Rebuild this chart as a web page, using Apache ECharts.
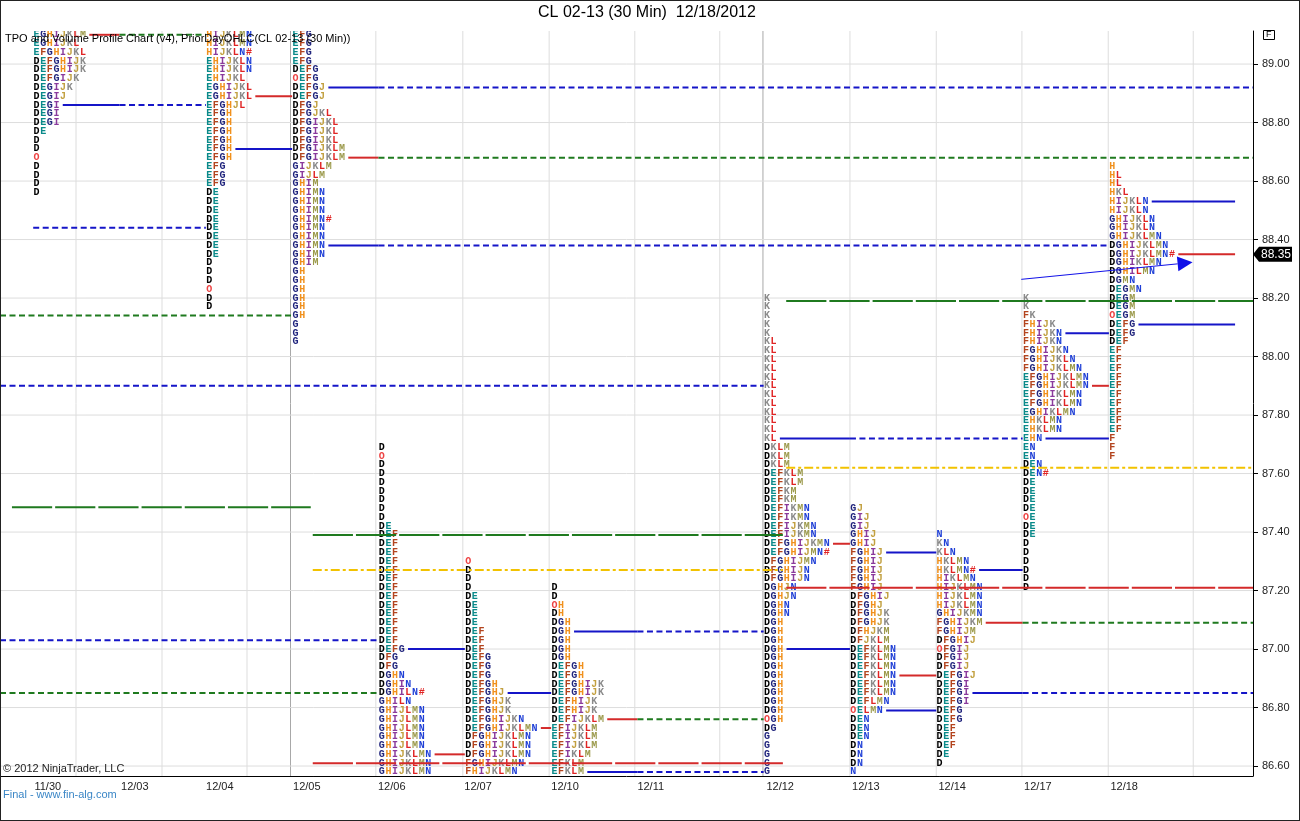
<!DOCTYPE html>
<html><head><meta charset="utf-8">
<script src="https://cdn.jsdelivr.net/npm/echarts@6/dist/echarts.min.js"></script>
<style>
html,body{margin:0;padding:0;background:#fff}
#wrap{position:relative;width:1300px;height:821px}
#c{width:1300px;height:821px}
#frame{position:absolute;left:0;top:0;width:1300px;height:821px;box-sizing:border-box;border:1px solid #222;pointer-events:none}
</style>
</head><body>
<div id="wrap"><div id="c"></div><div id="frame"></div></div>
<script>
// ---------- texts ----------
const chartTitle = 'CL 02-13 (30 Min)  12/18/2012';
const chartSubtitle = 'TPO and Volume Profile Chart (v4), PriorDayOHLC(CL 02-13 (30 Min))';
const copyrightText = '\u00a9 2012 NinjaTrader, LLC';
const footerText = 'Final - www.fin-alg.com';

// ---------- axes ----------
const yTickLabels = ['86.60','86.80','87.00','87.20','87.40','87.60','87.80','88.00','88.20','88.40','88.60','88.80','89.00'];
const xTickLabels = ['11/30','12/03','12/04','12/05','12/06','12/07','12/10','12/11','12/12','12/13','12/14','12/17','12/18'];
// positions on the time axis, in 30-minute TPO periods
const xTickPos = [7.2,20.3,33.1,46.2,59.0,72.0,85.1,98.0,117.5,130.4,143.4,156.3,169.3];
const dayGridPos = [11.45,24.4,37.2,56.6,69.7,82.7,95.6,108.4,128.0,141.0,153.9,166.9,179.7];
const weekGridPos = [43.75,114.9];
const xMin = 0, xMax = 188.7;
const yMin = 86.566, yMax = 89.113;

// ---------- TPO profiles ----------
const rowStep = 0.03;
const sessionDates = ['11/30','12/04','12/05','12/06','12/07','12/10','12/12','12/13','12/14','12/17','12/18'];
const sessionStart = [5,31,44,57,70,83,115,128,141,154,167];
const sessionEnd   = [18,44,57,70,83,96,128,141,154,167,186];
const sessionTop   = [89.10,89.10,89.10,87.69,87.30,87.21,88.20,87.48,87.39,88.20,88.65];

const tpo1130 = ['EGHIJKLM','EGHIJKL','EFGHIJKL','DEFGHIJK','DEFGHIJK','DEFGIJK','DEGIJK','DEGIJ','DEGI','DEGI','DEGI','DE','D','D','O','D','D','D','D'];
const tpo1204 = ['HIJKLMN','HIJKLMN','HIJKLN#','EHIJKLN','EHIJKLN','EHIJKL','EGHIJKL','EGHIJKL','EFGHJL','EFGH','EFGH','EFGH','EFGH','EFGH','EFGH','EFG','EFG','EFG','DE','DE','DE','DE','DE','DE','DE','DE','D','D','D','O','D','D'];
const tpo1205 = ['EFG','EFG','EFG','EFG','DEFG','OEFG','DEFGJ','DEFGJ','DFGJ','DFGJKL','DFGIJKL','DFGIJKL','DFGIJKL','DFGIJKLM','DFGIJKLM','GIJKLM','GIJLM','GHIM','GHIMN','GHIMN','GHIMN','GHIMN#','GHIMN','GHIMN','GHIMN','GHIMN','GHIM','GH','GH','GH','GH','GH','GH','G','G','G'];
const tpo1206 = ['D','O','D','D','D','D','D','D','D','DE','DEF','DEF','DEF','DEF','DEF','DEF','DEF','DEF','DEF','DEF','DEF','DEF','DEF','DEFG','DFG','DFG','DGHN','DGHIN','DGHILN#','GHILN','GHIJLMN','GHIJLMN','GHIJLMN','GHIJLMN','GHIJLMN','GHIJKLMN','GHIJKLMN','GHIJKLMN'];
const tpo1207 = ['O','D','D','D','DE','DE','DE','DE','DEF','DEF','DEF','DEFG','DEFG','DEFG','DEFGH','DEFGHJ','DEFGHJK','DEFGHJK','DEFGHIJKN','DEFGHIJKLMN','DFGHIJKLMN','DFGHIJKLMN','DFGHIJKLMN','FGHIJKLMN','FHIJKLMN'];
const tpo1210 = ['D','D','OH','DH','DGH','DGH','DGH','DGH','DGH','DEFGH','DEFGH','DEFGHIJK','DEFGHIJK','DEFHIJK','DEFHIJK','DEFIJKLM','EFIJKLM','EFIJKLM','EFIJKLM','EFIKLM','EFKLM','EFKLM'];
const tpo1212 = ['K','K','K','K','K','KL','KL','KL','KL','KL','KL','KL','KL','KL','KL','KL','KL','DKLM','DKLM','DKLM','DEFKLM','DEFKLM','DEFKM','DEFKM','DEFIKMN','DEFIKMN','DEFIJKMN','DEFIJKMN','DEFGHIJKMN','DEFGHIJMN#','DFGHIJMN','DFGHIJN','DFGHIJN','DGHJN','DGHJN','DGHN','DGHN','DGH','DGH','DGH','DGH','DGH','DGH','DGH','DGH','DGH','DGH','DGH','OGH','DG','G','G','G','G','G'];
const tpo1213 = ['GJ','GIJ','GIJ','GHIJ','GHIJ','FGHIJ','FGHIJ','FGHIJ','FGHIJ','FGHIJ','DFGHIJ','DFGHJ','DFGHJK','DFGHJK','DFHJKM','DFJKLM','DEFKLMN','DEFKLMN','DEFKLMN','DEFKLMN','DEFKLMN','DEFKLMN','DEFLMN','OELMN','DEN','DEN','DEN','DN','DN','DN','N'];
const tpo1214 = ['N','KN','KLN','HKLMN','HKLMN#','HIKLMN','HIJKLMN','HIJKLMN','HIJKLMN','GHIJKMN','FGHIJKM','FGHIJM','DFGHIJ','OFGIJ','DFGIJ','DFGIJ','DEFGIJ','DEFGI','DEFGI','DEFGI','DEFG','DEFG','DEF','DEF','DEF','DE','D'];
const tpo1217 = ['K','K','FK','FHIJK','FHIJKN','FHIJKN','FGHIJKN','FGHIJKLN','FGHIJKLMN','EFGHIJKLMN','EFGHIJKLMN','EFGHIKLMN','EFGHIKLMN','EGHIKLMN','EHKLMN','EHKLMN','EHN','EN','EN','DEN','DEN#','DE','DE','DE','DE','OE','DE','DE','D','D','D','D','D','D'];
const tpo1218 = ['H','HL','HL','HKL','HIJKLN','HIJKLN','GHIJKLN','GHIJKLN','GHIJKLMN','DGHIJKLMN','DGHIJKLMN#','DGHIKLMN','DGHILMN','DGMN','DEGMN','DEGM','DEGM','OEGM','DEFG','DEFG','DEF','EF','EF','EF','EF','EF','EF','EF','EF','EF','EF','F','F','F'];
const sessionRows = [tpo1130,tpo1204,tpo1205,tpo1206,tpo1207,tpo1210,tpo1212,tpo1213,tpo1214,tpo1217,tpo1218];

// value area high / point of control / value area low (null = above or below the chart)
const sessionVAH = [null,null,88.92,87.00,86.85,87.06,87.72,87.33,87.27,88.08,88.53];
const sessionPOC = [89.10,88.89,88.68,86.64,86.73,86.76,87.36,86.91,87.09,87.90,88.35];
const sessionVAL = [88.86,88.71,88.38,null,null,86.58,87.00,86.79,86.85,87.72,88.11];

// naked levels from sessions left of the chart
const priorLevelPrice = [88.44,88.14,87.90,87.03,86.85];
const priorLevelKind  = ['va','poc','va','va','poc'];
const priorLevelFrom  = [5,0,0,0,0];

// PriorDayOHLC segments
const pdFrom  = [1.8,47.1,118.4];
const pdTo    = [46.8,117.9,188.7];
const pdHigh  = [87.485,87.39,88.19];
const pdClose = [null,87.27,87.62];
const pdLow   = [null,86.61,87.21];

// drawn arrow and last price
const trendX = [153.8,179.6];
const trendY = [88.264,88.322];
const lastPrice = 88.35;

// ---------- styles ----------
const letterColor = {D:'#000000',E:'#0a8a8a',F:'#b3441e',G:'#22267e',H:'#f0901c',I:'#8a3a9c',J:'#c2a040',K:'#8a8a8a',L:'#e02424',M:'#9c9a4c',N:'#1f3fd6',O:'#ee4444','#':'#e02424'};
const BLUE = '#1515c8', RED = '#d42a2a', GREEN = '#1f7a1f', YELLOW = '#f2c200';

// ---------- build ----------
const r2 = v => Math.round(v*100)/100;
const sessionBottom = sessionTop.map((t,i)=>r2(t-(sessionRows[i].length-1)*rowStep));

const letterData = [], letterChars = [];
sessionRows.forEach((rows,s)=>{
  rows.forEach((row,k)=>{
    const price = r2(sessionTop[s]-k*rowStep);
    for (let i=0;i<row.length;i++){
      letterData.push([sessionStart[s]+i+0.5, price]);
      letterChars.push(row[i]);
    }
  });
});

function touchAfter(price, fromSession){
  for (let j=fromSession;j<sessionStart.length;j++){
    if (price<=sessionTop[j]+1e-9 && price>=sessionBottom[j]-1e-9) return sessionStart[j];
  }
  return xMax;
}

const lineData = [], lineStyles = [];
function addLine(x1,x2,price,color,dash,width){
  if (x2<=x1) return;
  lineData.push([x1,x2,price]);
  lineStyles.push({color,dash,width:width||2});
}
const DASH = [6,3.5], SEG = [40.2,3], DASHDOT = [9,3,3,3];
const last = sessionStart.length-1;
sessionStart.forEach((st,s)=>{
  [[sessionVAH[s],'va'],[sessionPOC[s],'poc'],[sessionVAL[s],'va']].forEach(([p,kind])=>{
    if (p==null) return;
    const k = Math.round((sessionTop[s]-p)/rowStep);
    const len = sessionRows[s][k].length;
    addLine(st+len+0.45, sessionEnd[s], p, kind==='poc'?RED:BLUE, null);
    if (s<last){
      const ext = touchAfter(p,s+1);
      if (ext>sessionEnd[s]) addLine(sessionEnd[s], ext, p, kind==='poc'?GREEN:BLUE, DASH);
    }
  });
});
priorLevelPrice.forEach((p,i)=>{
  addLine(priorLevelFrom[i], touchAfter(p,0), p, priorLevelKind[i]==='poc'?GREEN:BLUE, DASH);
});
pdFrom.forEach((f,i)=>{
  if (pdHigh[i]!=null) addLine(f,pdTo[i],pdHigh[i],GREEN,SEG);
  if (pdClose[i]!=null) addLine(f,pdTo[i],pdClose[i],YELLOW,DASHDOT);
  if (pdLow[i]!=null) addLine(f,pdTo[i],pdLow[i],RED,SEG);
});

const yTickVals = yTickLabels.map(Number);
const gridLineData = [], gridLineColor = [];
dayGridPos.forEach(x=>{gridLineData.push([x,yMin,x,yMax]);gridLineColor.push('#dddddd');});
weekGridPos.forEach(x=>{gridLineData.push([x,yMin,x,yMax]);gridLineColor.push('#a8a8a8');});
yTickVals.forEach(y=>{gridLineData.push([xMin,y,xMax,y]);gridLineColor.push('#dddddd');});

const LETTER_FONT = 'bold 10px "Liberation Mono", "DejaVu Sans Mono", monospace';
const SANS = 'Liberation Sans, Arial, sans-serif';

const chart = echarts.init(document.getElementById('c'), null, {renderer:'canvas'});
chart.setOption({
  animation:false,
  backgroundColor:'#ffffff',
  title:[
    {text:chartTitle,left:538,top:5,padding:0,textStyle:{fontSize:16,fontWeight:'normal',color:'#000',fontFamily:SANS}},
    {text:chartSubtitle,left:5,top:33,padding:0,z:20,textStyle:{fontSize:11,fontWeight:'normal',color:'#000',fontFamily:SANS}},
    {text:copyrightText,left:3,top:763,padding:0,textStyle:{fontSize:11,fontWeight:'normal',color:'#222',fontFamily:SANS}},
    {text:footerText,left:3,top:789,padding:0,textStyle:{fontSize:11,fontWeight:'normal',color:'#3a86c6',fontFamily:SANS}},
    {text:'F',left:1263,top:30,padding:[0,3],borderWidth:1,borderColor:'#000',textStyle:{fontSize:9,fontWeight:'normal',color:'#000',fontFamily:SANS,lineHeight:10}}
  ],
  grid:{left:0,right:47,top:31,bottom:45,containLabel:false},
  xAxis:{type:'value',min:xMin,max:xMax,
    axisLine:{show:true,onZero:false,lineStyle:{color:'#000',width:1}},
    axisTick:{show:false},splitLine:{show:false},
    axisLabel:{customValues:xTickPos,margin:5,color:'#222',fontSize:11,fontFamily:SANS,
      formatter:v=>{let b=0,d=1e9;xTickPos.forEach((p,i)=>{if(Math.abs(p-v)<d){d=Math.abs(p-v);b=i;}});return xTickLabels[b];}}},
  yAxis:{type:'value',position:'right',min:yMin,max:yMax,
    axisLine:{show:true,onZero:false,lineStyle:{color:'#000',width:1}},
    axisTick:{show:true,customValues:yTickVals,length:5,lineStyle:{color:'#000'}},
    splitLine:{show:false},
    axisLabel:{customValues:yTickVals,margin:9,color:'#222',fontSize:11,fontFamily:SANS,formatter:v=>v.toFixed(2)}},
  series:[
    {type:'custom',name:'grid',z:1,clip:true,silent:true,data:gridLineData,
      renderItem:(params,api)=>{
        const a=api.coord([api.value(0),api.value(1)]), b=api.coord([api.value(2),api.value(3)]);
        return {type:'line',shape:{x1:a[0],y1:a[1],x2:b[0],y2:b[1]},style:{stroke:gridLineColor[params.dataIndex],lineWidth:1}};
      }},
    {type:'custom',name:'TPO',z:2,clip:true,silent:true,data:letterData,
      renderItem:(params,api)=>{
        const p=api.coord([api.value(0),api.value(1)]);
        const ch=letterChars[params.dataIndex];
        return {type:'text',x:p[0],y:p[1],style:{text:ch,fill:letterColor[ch],font:LETTER_FONT,align:'center',verticalAlign:'middle'}};
      }},
    {type:'custom',name:'levels',z:3,clip:true,silent:true,data:lineData,
      renderItem:(params,api)=>{
        const a=api.coord([api.value(0),api.value(2)]), b=api.coord([api.value(1),api.value(2)]);
        const st=lineStyles[params.dataIndex];
        return {type:'line',shape:{x1:a[0],y1:a[1],x2:b[0],y2:b[1]},style:{stroke:st.color,lineWidth:st.width,lineDash:st.dash||null}};
      }},
    {type:'custom',name:'arrow',z:4,clip:false,silent:true,data:[[trendX[0],trendY[0],trendX[1],trendY[1]]],
      renderItem:(params,api)=>{
        const a=api.coord([api.value(0),api.value(1)]), b=api.coord([api.value(2),api.value(3)]);
        const dx=b[0]-a[0], dy=b[1]-a[1], L=Math.hypot(dx,dy), ux=dx/L, uy=dy/L;
        const hl=15, hw=7.5, bx=b[0]-ux*hl, by=b[1]-uy*hl;
        return {type:'group',children:[
          {type:'line',shape:{x1:a[0],y1:a[1],x2:bx,y2:by},style:{stroke:'#1010e8',lineWidth:1}},
          {type:'polygon',shape:{points:[[b[0],b[1]],[bx-uy*hw,by+ux*hw],[bx+uy*hw,by-ux*hw]]},style:{fill:'#1010e8'}}
        ]};
      }},
    {type:'custom',name:'last',z:5,clip:false,silent:true,data:[[xMax,lastPrice]],
      renderItem:(params,api)=>{
        const p=api.coord([api.value(0),api.value(1)]);
        const x=p[0], y=p[1];
        return {type:'group',children:[
          {type:'polygon',shape:{points:[[x,y],[x+6,y-7.5],[x+39,y-7.5],[x+39,y+7.5],[x+6,y+7.5]]},style:{fill:'#000'}},
          {type:'text',x:x+23,y:y+0.5,style:{text:api.value(1).toFixed(2),fill:'#fff',font:'12px '+SANS,align:'center',verticalAlign:'middle'}}
        ]};
      }}
  ]
});
</script>
</body></html>
